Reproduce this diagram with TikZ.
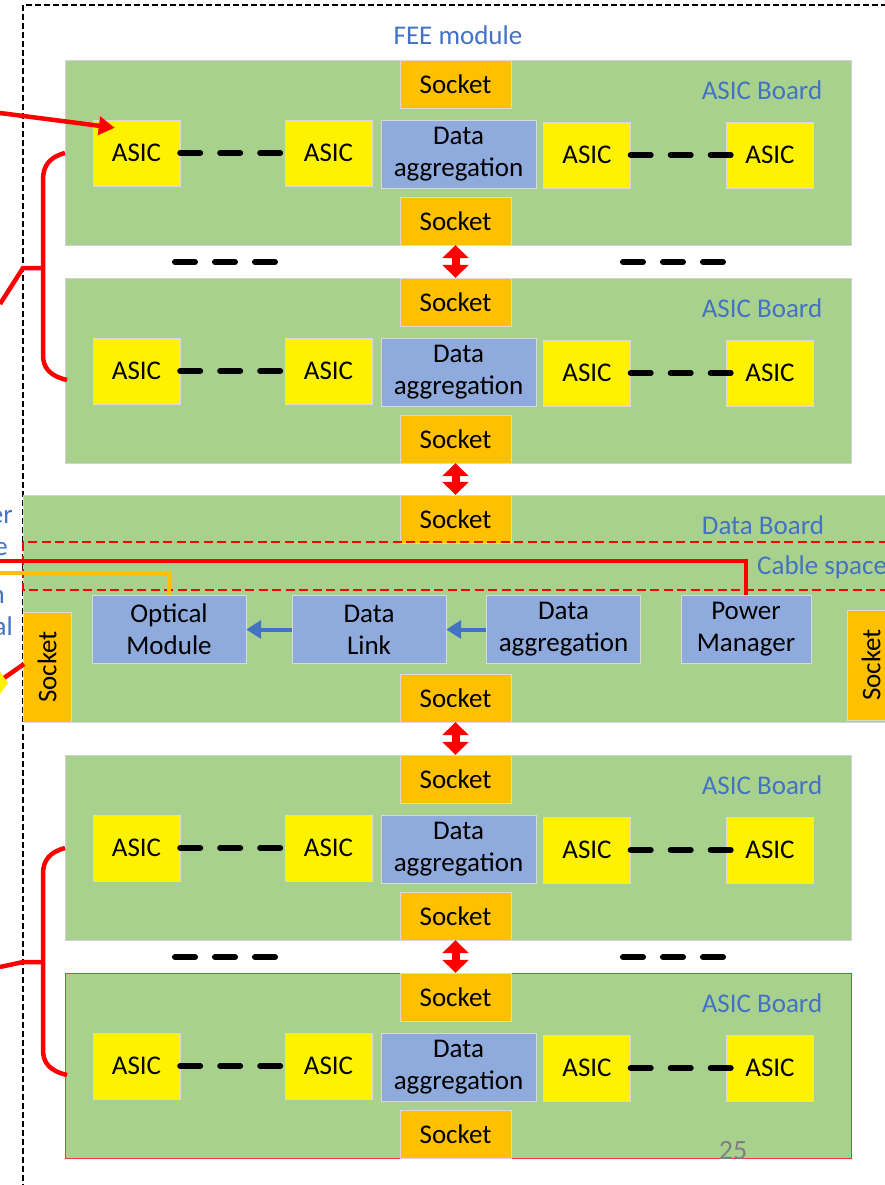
\documentclass[tikz,border=0pt]{standalone}
\usepackage{fontspec}
\setmainfont{Carlito}
\usetikzlibrary{arrows.meta}
\definecolor{boardgreen}{HTML}{A9D18E}
\definecolor{socketorange}{HTML}{FFC000}
\definecolor{procblue}{HTML}{8FAADC}
\definecolor{lblblue}{HTML}{4472C4}
\newcommand{\boxfont}{\fontsize{27}{32}\selectfont}
\tikzset{
  board/.style={rectangle, fill=boardgreen, draw=gray!35, line width=1pt, anchor=north west,
    minimum width=786pt, minimum height=185pt, inner sep=0pt},
  socketbox/.style={rectangle, fill=socketorange, draw=gray!30, minimum width=111pt,
    minimum height=48pt, inner sep=0pt, font=\boxfont},
  asicbox/.style={rectangle, fill=yellow, draw=gray!30, minimum width=87pt,
    minimum height=66pt, inner sep=0pt, font=\boxfont},
  procbox/.style={rectangle, fill=procblue, draw=gray!30, minimum width=155pt,
    minimum height=68pt, inner sep=0pt, align=center, font=\boxfont},
  lbl/.style={text=lblblue, font=\boxfont, inner sep=0pt},
  chain/.style={line width=6pt, line cap=round, dash pattern=on 20pt off 20pt},
  updown/.style={red, line width=8pt, {Triangle[width=26pt,length=13pt]}-{Triangle[width=26pt,length=13pt]}},
  bluearrow/.style={lblblue, line width=4pt, -{Triangle[width=18pt,length=15pt]}},
  redline/.style={red, line width=4.5pt},
  redarrow/.style={red, line width=4.5pt, -{Triangle[width=18pt,length=16pt]}},
  optline/.style={socketorange, line width=4pt},
  cabledash/.style={red, line width=2pt, dash pattern=on 9pt off 4.5pt},
  border/.style={black, line width=2pt, dash pattern=on 6pt off 3pt}
}
\begin{document}
\begin{tikzpicture}[x=1pt, y=-1pt]
    \useasboundingbox (0,0) rectangle (884,1185);
    % module outline
    \draw[border] (23,1190) -- (23,5) -- (900,5);
    \node[lbl] (feelbl) at (458,35) {FEE module};

    % ASIC boards
    \foreach \i/\t/\c in {1/60/gray!35,2/278/gray!35,3/755/gray!35,4/973/red!80}{
      \node[board, draw=\c] (board\i) at (65,\t) {};
      \node[lbl] (blbl\i) at (762,\t+30) {ASIC Board};
      \node[socketbox] (sockT\i) at (455.5,\t+24) {Socket};
      \node[socketbox] (sockB\i) at (455.5,\t+161) {Socket};
      \node[procbox] (aggr\i) at (458.5,\t+94) {Data\\aggregation};
      \node[asicbox] (asicA\i) at (136.5,\t+93) {ASIC};
      \node[asicbox] (asicB\i) at (328.5,\t+93) {ASIC};
      \node[asicbox] (asicC\i) at (587,\t+95) {ASIC};
      \node[asicbox] (asicD\i) at (770,\t+95) {ASIC};
      \draw[chain] (asicA\i) -- (asicB\i);
      \draw[chain] (asicC\i) -- ([xshift=6pt]asicD\i.west);
    }

    % boards left out
    \draw[chain] (175,262) -- (280,262);
    \draw[chain] (623,262) -- (728,262);
    \draw[chain] (175,957) -- (280,957);
    \draw[chain] (623,957) -- (728,957);

    % Data board
    \node[board, minimum width=880pt, minimum height=227pt] (dboard) at (23,495) {};
    \node[lbl] (dlbl) at (763,525) {Data Board};
    \node[socketbox] (sockTd) at (455.5,519) {Socket};
    \node[socketbox] (sockBd) at (455.5,698) {Socket};
    \node[socketbox, rotate=90, minimum width=110pt] (sockL) at (47,667) {Socket};
    \node[socketbox, rotate=90, minimum width=110pt] (sockR) at (871,665) {Socket};
    \draw[cabledash] (23,542) rectangle (900,590);
    \node[lbl, anchor=west] (cablelbl) at (757,567) {Cable space};
    \node[procbox, minimum width=154pt] (optic) at (169,629.5) {Optical\\Module};
    \node[procbox, minimum width=154pt] (dlink) at (369,629.5) {Data\\Link};
    \node[procbox, minimum width=154pt] (daggr) at (563.5,629.5) {Data\\aggregation};
    \node[procbox, minimum width=130pt] (pwr) at (746,629.5) {Power\\Manager};
    \draw[bluearrow] (daggr) -- (dlink);
    \draw[bluearrow] (dlink) -- (optic);

    % board to board
    \draw[updown] (sockB1.south) -- (sockT2.north);
    \draw[updown] (sockB2.south) -- (sockTd.north);
    \draw[updown] (sockBd.south) -- (sockT3.north);
    \draw[updown] (sockB3.south) -- (sockT4.north);

    % cables from outside
    \coordinate (pwrin) at (0,561);
    \coordinate (optin) at (0,573);
    \draw[redline] (pwrin) -| (pwr.north);
    \draw[optline] (optin) -| (optic.north);
    \coordinate (asicsig) at (0,113);
    \draw[redarrow] (asicsig) -- ([shift={(22,8)}]asicA1.north west);

    % brackets
    \draw[redline] (board1.west) .. controls (50,157) and (43,165) .. (43,180) -- (43,355)
      .. controls (43,368) and (50,376) .. (67,380);
    \coordinate (brtop) at (43,268);
    \draw[redline] (brtop) -- (23,268) -- (0,304);
    \draw[redline] (board3.west) .. controls (50,852) and (43,860) .. (43,874) -- (43,1050)
      .. controls (43,1063) and (50,1071) .. (67,1075);
    \coordinate (brbot) at (43,962);
    \draw[redline] (brbot) -- (23,962) -- (0,967);
    \draw[redline] (24,664) -- (4,678);
    \fill[yellow] (0,672) -- (8,683) -- (0,694) -- cycle;

    % cut texts on the left
    \node[lbl, anchor=base east] (frag1) at (13,523) {er};
    \node[lbl, anchor=base east] (frag2) at (8,555) {e};
    \node[lbl, anchor=base east] (frag3) at (5,603) {n};
    \node[lbl, anchor=base east] (frag4) at (13,635) {al};

    \node[text=gray, font=\fontsize{28}{30}\selectfont] (pagenum) at (733,1150) {25};
\end{tikzpicture}
\end{document}
